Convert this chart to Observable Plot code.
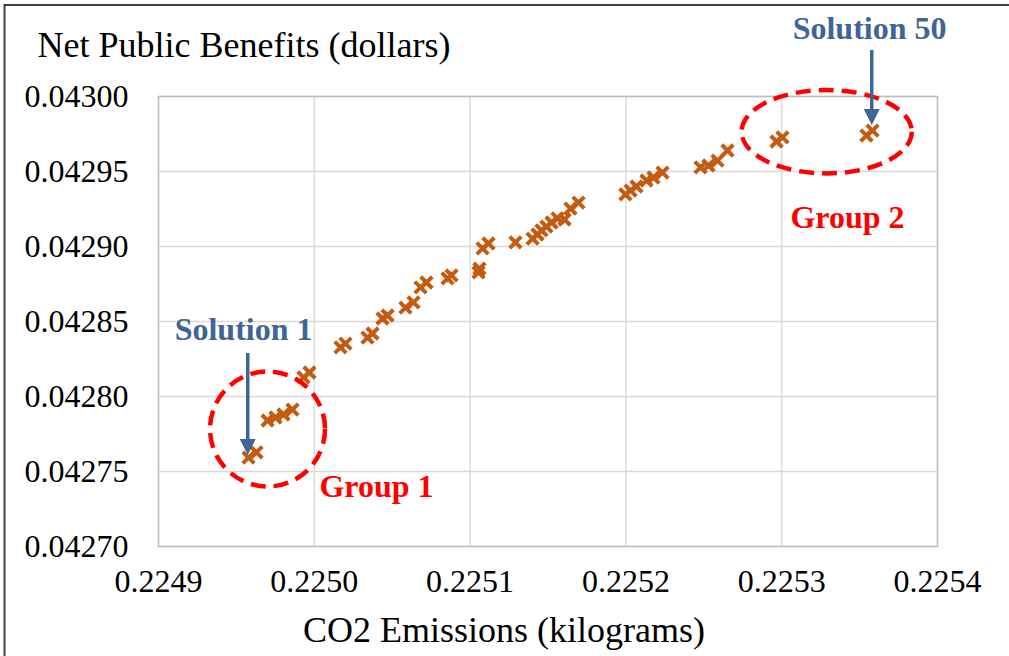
<!DOCTYPE html>
<html><head><meta charset="utf-8">
<script src="https://cdn.jsdelivr.net/npm/d3@7"></script>
<script src="https://cdn.jsdelivr.net/npm/@observablehq/plot@0.6"></script>
<style>body{margin:0;background:#fff;} #chart svg{display:block;}</style>
</head><body><div id="chart"></div>
<script>
// CO2 emissions (kg) of each solution
const co2 = [0.2249578, 0.2249629, 0.2249700, 0.2249751, 0.2249802, 0.2249860, 0.2249931, 0.2249969,
  0.2250168, 0.2250200, 0.2250341, 0.2250374, 0.2250438, 0.2250470, 0.2250585, 0.2250637,
  0.2250682, 0.2250720, 0.2250855, 0.2250881, 0.2251054, 0.2251060, 0.2251080, 0.2251118,
  0.2251291, 0.2251401, 0.2251433, 0.2251458, 0.2251490, 0.2251523, 0.2251561, 0.2251606,
  0.2251644, 0.2251696, 0.2251997, 0.2252030, 0.2252068, 0.2252132, 0.2252177, 0.2252235,
  0.2252479, 0.2252530, 0.2252588, 0.2252652, 0.2252967, 0.2253005, 0.2253544, 0.2253583];
// Net public benefits (dollars) of each solution
const benefit = [0.0427593, 0.0427627, 0.0427840, 0.0427860, 0.0427880, 0.0427913, 0.0428127, 0.0428160,
  0.0428327, 0.0428353, 0.0428393, 0.0428420, 0.0428520, 0.0428540, 0.0428593, 0.0428627,
  0.0428727, 0.0428760, 0.0428787, 0.0428807, 0.0428827, 0.0428853, 0.0428987, 0.0429020,
  0.0429027, 0.0429053, 0.0429080, 0.0429107, 0.0429133, 0.0429160, 0.0429187, 0.0429180,
  0.0429253, 0.0429293, 0.0429347, 0.0429373, 0.0429400, 0.0429440, 0.0429460, 0.0429493,
  0.0429527, 0.0429540, 0.0429573, 0.0429640, 0.0429700, 0.0429727, 0.0429740, 0.0429773];

const xTicks = [0.2249, 0.2250, 0.2251, 0.2252, 0.2253, 0.2254];
const yTicks = [0.04270, 0.04275, 0.04280, 0.04285, 0.04290, 0.04295, 0.04300];

const xTitle = "CO2 Emissions (kilograms)";
const yTitle = "Net Public Benefits (dollars)";

// group annotations (ellipses, data units)
const groupNames = ["Group 1", "Group 2"];
const groupCx = [0.2249703, 0.2253292];
const groupCy = [0.0427780, 0.0429762];
const groupRx = [0.0000369, 0.0000546];
const groupRy = [0.0000383, 0.0000278];
const groupLabelX = [0.2250399, 0.2253422];
const groupLabelY = [0.0427400, 0.0429193];

// solution annotations (arrows, data units)
const solutionNames = ["Solution 1", "Solution 50"];
const solutionLabelX = [0.2249546, 0.2253564];
const solutionLabelY = [0.0428447, 0.0430453];
const arrowX = [0.2249576, 0.2253581];
const arrowTop = [0.0428287, 0.0430307];
const arrowTip = [0.0427607, 0.0429807];

const points = co2.map((c, i) => ({co2: c, benefit: benefit[i]}));
const groups = groupNames.map((n, i) => ({name: n, cx: groupCx[i], cy: groupCy[i], rx: groupRx[i], ry: groupRy[i], lx: groupLabelX[i], ly: groupLabelY[i]}));
const solutions = solutionNames.map((n, i) => ({name: n, lx: solutionLabelX[i], ly: solutionLabelY[i], ax: arrowX[i], top: arrowTop[i], tip: arrowTip[i]}));

const blue = "#3e6596";
const red = "#ff0000";

const ellipseMark = (index, {x, y}) => {
  const g = d3.create("svg:g");
  for (const d of groups) {
    g.append("ellipse")
      .attr("cx", x(d.cx)).attr("cy", y(d.cy))
      .attr("rx", Math.abs(x(d.cx + d.rx) - x(d.cx)))
      .attr("ry", Math.abs(y(d.cy + d.ry) - y(d.cy)))
      .attr("fill", "none").attr("stroke", red)
      .attr("stroke-width", 4.5).attr("stroke-dasharray", "15 8");
  }
  return g.node();
};

const arrowMark = (index, {x, y}) => {
  const g = d3.create("svg:g");
  for (const d of solutions) {
    const px = x(d.ax), y0 = y(d.top), y1 = y(d.tip);
    const head = 16, hw = 8;
    g.append("line").attr("x1", px).attr("x2", px).attr("y1", y0).attr("y2", y1 - head + 1)
      .attr("stroke", blue).attr("stroke-width", 3.5);
    g.append("path").attr("d", `M${px - hw},${y1 - head}L${px + hw},${y1 - head}L${px},${y1}Z`).attr("fill", blue);
  }
  return g.node();
};

const borderMark = () => {
  const r = d3.create("svg:rect").attr("x", 4.5).attr("y", 5).attr("width", 1020).attr("height", 700)
    .attr("fill", "none").attr("stroke", "#404040").attr("stroke-width", 2);
  return r.node();
};

const chart = Plot.plot({
  width: 1009, height: 656,
  marginLeft: 158, marginRight: 72, marginTop: 96, marginBottom: 110,
  style: {fontFamily: "'Liberation Serif','Times New Roman',serif", fontSize: "32px", color: "#000", background: "#fff", overflow: "visible"},
  x: {domain: [0.2249, 0.2254]},
  y: {domain: [0.04270, 0.04300]},
  marks: [
    Plot.gridX(xTicks, {stroke: "#d9d9d9", strokeOpacity: 1, strokeWidth: 1.3}),
    Plot.gridY(yTicks, {stroke: "#d9d9d9", strokeOpacity: 1, strokeWidth: 1.3}),
    Plot.frame({stroke: "#bfbfbf", strokeWidth: 1.5}),
    Plot.axisX(xTicks, {tickSize: 0, tickPadding: 23, tickFormat: d3.format(".4f"), label: null, fontSize: 32}),
    Plot.axisY(yTicks, {tickSize: 0, tickPadding: 30, tickFormat: d3.format(".5f"), label: null, fontSize: 32}),
    Plot.dot(points, {x: "co2", y: "benefit", symbol: "times", r: 5.3, stroke: "#c55a11", strokeWidth: 4}),
    ellipseMark,
    arrowMark,
    Plot.text(groups, {x: "lx", y: "ly", text: "name", fill: red, fontWeight: "bold", fontSize: 32, textAnchor: "middle", lineAnchor: "middle"}),
    Plot.text(solutions, {x: "lx", y: "ly", text: "name", fill: blue, fontWeight: "bold", fontSize: 32, textAnchor: "middle", lineAnchor: "middle"}),
    Plot.text([yTitle], {frameAnchor: "top-left", text: d => d, dx: -121, dy: -51, textAnchor: "start", lineAnchor: "middle", fontSize: 36, fill: "#000"}),
    Plot.text([xTitle], {frameAnchor: "bottom", text: d => d, dx: -44, dy: 84, textAnchor: "middle", lineAnchor: "middle", fontSize: 36, fill: "#000"}),
    borderMark
  ]
});
document.getElementById("chart").appendChild(chart);
</script>
</body></html>
